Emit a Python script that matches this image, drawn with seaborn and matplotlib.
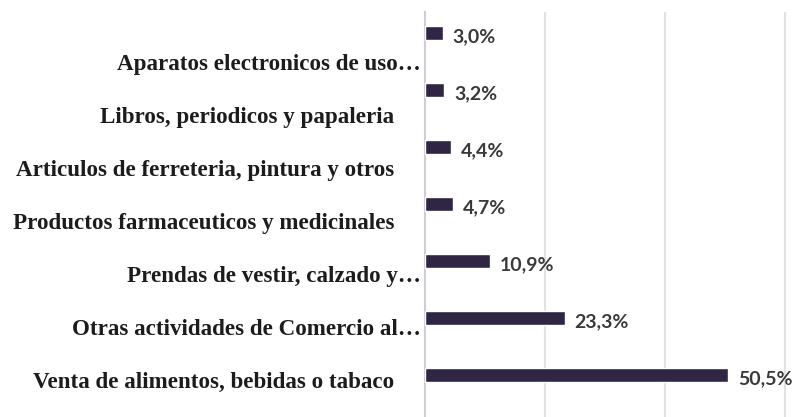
import matplotlib
matplotlib.use("Agg")
import matplotlib.pyplot as plt
import seaborn as sns
import pandas as pd

# Share of commerce activities
categories = [
    "Aparatos electronicos de uso\u2026",
    "Libros, periodicos y papaleria",
    "Articulos de ferreteria, pintura y otros",
    "Productos farmaceuticos y medicinales",
    "Prendas de vestir, calzado y\u2026",
    "Otras actividades de Comercio al\u2026",
    "Venta de alimentos, bebidas o tabaco",
]
values = [3.0, 3.2, 4.4, 4.7, 10.9, 23.3, 50.5]
truncated = [True, False, False, False, True, True, False]

df = pd.DataFrame({"categoria": categories, "porcentaje": values})

sns.set_theme(style="white")
W, H = 797, 417
fig = plt.figure(figsize=(W / 100, H / 100), dpi=100)
fig.patch.set_facecolor("white")

x0 = 425            # pixel of the value axis origin
top, bottom = 12, 417
ax = fig.add_axes([x0 / W, 0 / H, (W - x0) / W, (bottom - top) / H])

bar_color = "#302643"
sns.barplot(data=df, x="porcentaje", y="categoria", orient="h",
            color=bar_color, width=0.26, saturation=1, ax=ax, zorder=3)

# bar rows: first at pixel 33, then every 57 px
n = len(categories)
ax.set_ylim((bottom - 33) / 57, -(33 - top) / 57)
ax.set_xlim(0, 62)
ax.set_xticks([20, 40, 60])
ax.set_yticks([])
ax.set_xlabel("")
ax.set_ylabel("")
ax.tick_params(axis="x", labelbottom=False, length=0)
ax.grid(axis="x", color="#e2e1e8", linewidth=1.5, zorder=0)
ax.grid(axis="y", visible=False)
for side in ["top", "right", "bottom"]:
    ax.spines[side].set_visible(False)
ax.spines["left"].set_color("#cfcdd6")
ax.spines["left"].set_linewidth(1.5)
ax.patch.set_alpha(0)

for i, v in enumerate(values):
    ax.annotate(f"{v:.1f}%".replace(".", ","), xy=(v, i), xytext=(7, -3),
                textcoords="offset points", ha="left", va="center",
                fontsize=14, fontweight="bold", family="Lato",
                color="#3a3a3a", zorder=4)

# category labels: first at pixel 62, then every 53 px
lab = fig.add_axes([x0 / W, 0, 0.001, 1], zorder=-1)
lab.set_ylim((H - 62) / 53, -62 / 53)
lab.set_yticks(range(n))
lab.set_yticklabels(categories, family="Liberation Serif",
                    fontweight="bold", fontsize=16.6, color="#1c1c1c")
lab.set_xticks([])
for s in lab.spines.values():
    s.set_visible(False)
lab.patch.set_visible(False)
lab.tick_params(axis="y", length=0)
for tick, t in zip(lab.yaxis.get_major_ticks(), truncated):
    tick.set_pad(3 if t else 22)

fig.savefig("out.png", dpi=100, facecolor="white")
